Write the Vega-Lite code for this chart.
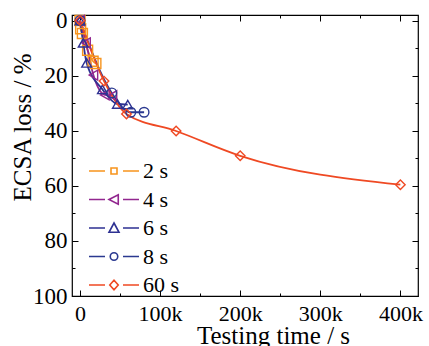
{
  "$schema": "https://vega.github.io/schema/vega-lite/v6.json",
  "width": 346,
  "height": 281,
  "autosize": "none",
  "padding": {"left": 72, "top": 15, "right": 11, "bottom": 50},
  "background": "white",
  "config": {
    "font": "Liberation Serif",
    "view": {"stroke": "black", "strokeWidth": 1.2},
    "axis": {"grid": false, "domain": false, "tickColor": "black", "tickWidth": 1, "labelColor": "black", "titleColor": "black", "titleFontWeight": "normal", "labelFont": "Liberation Serif", "titleFont": "Liberation Serif"}
  },
  "data": {
    "values": [
      {"series": "2 s", "t": 0, "loss": 0},
      {"series": "2 s", "t": 800, "loss": 3},
      {"series": "2 s", "t": 3000, "loss": 4.7},
      {"series": "2 s", "t": 9500, "loss": 10.8},
      {"series": "2 s", "t": 16300, "loss": 14.8},
      {"series": "2 s", "t": 19800, "loss": 15.6},
      {"series": "4 s", "t": 0, "loss": 0},
      {"series": "4 s", "t": 7500, "loss": 8.1},
      {"series": "4 s", "t": 16700, "loss": 19.8},
      {"series": "4 s", "t": 31000, "loss": 27},
      {"series": "4 s", "t": 40500, "loss": 27.3},
      {"series": "6 s", "t": 0, "loss": 0},
      {"series": "6 s", "t": 4000, "loss": 8.1},
      {"series": "6 s", "t": 8300, "loss": 15.4},
      {"series": "6 s", "t": 28000, "loss": 25},
      {"series": "6 s", "t": 46700, "loss": 30.3},
      {"series": "6 s", "t": 59600, "loss": 30.5},
      {"series": "8 s", "t": 0, "loss": 0},
      {"series": "8 s", "t": 39600, "loss": 26.3},
      {"series": "8 s", "t": 63400, "loss": 33.3},
      {"series": "8 s", "t": 80000, "loss": 33.3},
      {"series": "60 s", "t": 0, "loss": 0},
      {"series": "60 s", "t": 30000, "loss": 22},
      {"series": "60 s", "t": 58000, "loss": 33.9},
      {"series": "60 s", "t": 120000, "loss": 40.1},
      {"series": "60 s", "t": 200000, "loss": 49.1},
      {"series": "60 s", "t": 400000, "loss": 59.6}
    ]
  },
  "layer": [
    {
      "mark": {"type": "line", "interpolate": "monotone", "strokeWidth": 1.8, "clip": true},
      "encoding": {
        "x": {"field": "t", "type": "quantitative", "scale": {"domain": [-10000, 422000], "nice": false, "zero": false},
          "axis": {"orient": "bottom", "values": [0, 50000, 100000, 150000, 200000, 250000, 300000, 350000, 400000],
            "labelExpr": "datum.value === 0 ? '0' : (datum.value % 100000 === 0 ? (datum.value / 1000) + 'k' : '')",
            "tickSize": {"condition": {"test": "datum.value % 100000 === 0", "value": -6}, "value": -3},
            "labelFontSize": 22, "labelBaseline": "alphabetic", "labelPadding": 30, "labelFlush": false, "labelOverlap": false,
            "title": "Testing time / s", "titleFontSize": 25, "titleX": 201, "titleY": 47, "titleBaseline": "alphabetic", "titleAlign": "center"}},
        "y": {"field": "loss", "type": "quantitative", "scale": {"domain": [-2, 100], "reverse": true, "nice": false, "zero": false},
          "axis": {"orient": "left", "values": [0, 10, 20, 30, 40, 50, 60, 70, 80, 90, 100],
            "labelExpr": "datum.value % 20 === 0 ? datum.label : ''",
            "tickSize": {"condition": {"test": "datum.value % 20 === 0", "value": -6}, "value": -3},
            "labelFontSize": 23, "labelPadding": 11, "labelBaseline": "middle", "labelFlush": false, "labelOverlap": false,
            "title": "ECSA loss / %", "titleFontSize": 25, "titleAngle": 270, "titleX": -42, "titleY": 112, "titleBaseline": "alphabetic", "titleAlign": "center"}},
        "color": {"field": "series", "type": "nominal", "legend": null,
          "scale": {"domain": ["2 s", "4 s", "6 s", "8 s", "60 s"], "range": ["#F7941D", "#92278F", "#2E3192", "#2B3990", "#EF4923"]}}
      }
    },
    {
      "mark": {"type": "point", "filled": false, "strokeWidth": 1.4, "opacity": 1},
      "encoding": {
        "x": {"field": "t", "type": "quantitative", "scale": {"domain": [-10000, 422000], "nice": false, "zero": false},
          "axis": {"orient": "top", "values": [0, 50000, 100000, 150000, 200000, 250000, 300000, 350000, 400000], "labels": false, "title": null,
            "tickSize": {"condition": {"test": "datum.value % 100000 === 0", "value": -6}, "value": -3}}},
        "y": {"field": "loss", "type": "quantitative", "scale": {"domain": [-2, 100], "reverse": true, "nice": false, "zero": false},
          "axis": {"orient": "right", "values": [0, 10, 20, 30, 40, 50, 60, 70, 80, 90, 100], "labels": false, "title": null,
            "tickSize": {"condition": {"test": "datum.value % 20 === 0", "value": -6}, "value": -3}}},
        "color": {"field": "series", "type": "nominal", "legend": null,
          "scale": {"domain": ["2 s", "4 s", "6 s", "8 s", "60 s"], "range": ["#F7941D", "#92278F", "#2E3192", "#2B3990", "#EF4923"]}},
        "shape": {"field": "series", "type": "nominal", "legend": null,
          "scale": {"domain": ["2 s", "4 s", "6 s", "8 s", "60 s"], "range": ["square", "triangle-left", "triangle-up", "circle", "diamond"]}},
        "size": {"field": "series", "type": "ordinal", "legend": null,
          "scale": {"domain": ["2 s", "4 s", "6 s", "8 s", "60 s"], "range": [100, 90, 80, 56, 120]}}
      }
    },
    {
      "mark": {"type": "point", "filled": false, "opacity": 0},
      "encoding": {
        "color": {"field": "series", "type": "nominal",
          "scale": {"domain": ["2 s", "4 s", "6 s", "8 s", "60 s"], "range": ["#F7941D", "#92278F", "#2E3192", "#2B3990", "#EF4923"]},
          "legend": {"orient": "none", "legendX": 16, "legendY": 146, "title": null, "padding": 0,
            "symbolSize": 2500, "symbolStrokeWidth": 1.6, "symbolOpacity": 1, "symbolFillColor": "transparent",
            "clipHeight": 20, "rowPadding": 6.5, "labelFontSize": 22, "labelOffset": 3, "labelColor": "black", "labelFont": "Liberation Serif", "labelLimit": 200}},
        "shape": {"field": "series", "type": "nominal",
          "scale": {"domain": ["2 s", "4 s", "6 s", "8 s", "60 s"], "range": [
            "M-1,0L-0.36,0M0.36,0L1,0M-0.12,-0.12L0.12,-0.12L0.12,0.12L-0.12,0.12Z",
            "M-1,0L-0.36,0M0.36,0L1,0M-0.2,0L0.17,-0.19L0.17,0.19Z",
            "M-1,0L-0.36,0M0.36,0L1,0M0,-0.2L0.2,0.17L-0.2,0.17Z",
            "M-1,0L-0.36,0M0.36,0L1,0M0.15,0A0.15,0.15,0,1,1,-0.15,0A0.15,0.15,0,1,1,0.15,0Z",
            "M-1,0L-0.36,0M0.36,0L1,0M-0.17,0L0,-0.19L0.17,0L0,0.19Z"
          ]},
          "legend": {"orient": "none", "legendX": 16, "legendY": 146, "title": null, "padding": 0,
            "symbolSize": 2500, "symbolStrokeWidth": 1.6, "symbolOpacity": 1, "symbolFillColor": "transparent",
            "clipHeight": 20, "rowPadding": 6.5, "labelFontSize": 22, "labelOffset": 3, "labelColor": "black", "labelFont": "Liberation Serif", "labelLimit": 200}}
      }
    }
  ],
  "resolve": {
    "scale": {"color": "independent", "shape": "independent", "size": "independent"},
    "axis": {"x": "independent", "y": "independent"}
  }
}
